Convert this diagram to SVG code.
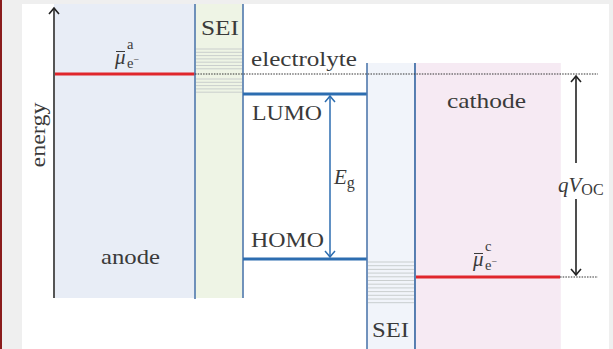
<svg xmlns="http://www.w3.org/2000/svg" width="613" height="349" viewBox="0 0 613 349">
<defs>
<style>
.t{font-family:"Liberation Serif","DejaVu Serif",serif;font-size:21px;fill:#3a3a3a}
.ti{font-family:"Liberation Serif","DejaVu Serif",serif;font-style:italic;font-size:21px;fill:#3a3a3a}
.s{font-family:"Liberation Serif","DejaVu Serif",serif;font-size:14.5px;fill:#3a3a3a}
.sub{font-family:"Liberation Serif","DejaVu Serif",serif;font-style:normal;font-size:16px}
.bd{stroke:#4f78ad;stroke-width:1.6;fill:none}
.lvl{stroke:#2c6db0;stroke-width:3.2;fill:none}
.red{stroke:#e0262c;stroke-width:3.2;fill:none}
.dot{stroke:#333;stroke-width:1.2;stroke-dasharray:1.5 1.2;fill:none}
.hatch{stroke:#c5c9c9;stroke-width:0.9}
</style>
<marker id="ab" viewBox="-8 -6 10 12" markerWidth="10" markerHeight="12" refX="0" refY="0" orient="auto-start-reverse" markerUnits="userSpaceOnUse">
<path d="M-6,-5 Q-2,-1.5 0,0 Q-2,1.5 -6,5" fill="none" stroke="#2c6db0" stroke-width="1.5"/>
</marker>
<marker id="ak" viewBox="-8 -6 10 12" markerWidth="10" markerHeight="12" refX="0" refY="0" orient="auto-start-reverse" markerUnits="userSpaceOnUse">
<path d="M-6,-5 Q-2,-1.5 0,0 Q-2,1.5 -6,5" fill="none" stroke="#222" stroke-width="1.6"/>
</marker>
</defs>
<rect x="0" y="0" width="613" height="349" fill="#ffffff"/>
<rect x="0" y="0" width="613" height="4" fill="#efefef"/>
<rect x="0" y="0" width="22" height="349" fill="#efefef"/>
<rect x="609" y="0" width="4" height="349" fill="#efefef"/>
<rect x="0" y="0" width="2" height="349" fill="#8b1c1c"/>

<g id="anode">
<rect x="54" y="4" width="141" height="294" fill="#e8edf6"/>
<text class="t" x="101" y="264" textLength="59" lengthAdjust="spacingAndGlyphs">anode</text>
<line class="red" x1="54" y1="74" x2="195" y2="74"/>
<line x1="116" y1="51.5" x2="125" y2="51.5" stroke="#3a3a3a" stroke-width="1"/>
<text class="ti" x="115" y="64">μ</text>
<text class="s" x="127" y="49">a</text>
<text class="s" x="127" y="68">e<tspan style="font-size:10px" dy="-5">−</tspan></text>
</g>

<g id="sei-anode">
<rect x="195" y="4" width="48" height="294" fill="#eef4e5"/>
<g class="hatch">
<line x1="196" y1="49" x2="242" y2="49"/>
<line x1="196" y1="52.3" x2="242" y2="52.3"/>
<line x1="196" y1="55.6" x2="242" y2="55.6"/>
<line x1="196" y1="58.9" x2="242" y2="58.9"/>
<line x1="196" y1="62.2" x2="242" y2="62.2"/>
<line x1="196" y1="65.5" x2="242" y2="65.5"/>
<line x1="196" y1="68.8" x2="242" y2="68.8"/>
<line x1="196" y1="79" x2="242" y2="79"/>
<line x1="196" y1="82.3" x2="242" y2="82.3"/>
<line x1="196" y1="85.6" x2="242" y2="85.6"/>
<line x1="196" y1="88.9" x2="242" y2="88.9"/>
<line x1="196" y1="92.2" x2="242" y2="92.2"/>
</g>
<line class="bd" x1="195" y1="4" x2="195" y2="299"/>
<line class="bd" x1="243" y1="4" x2="243" y2="298"/>
<text class="t" x="201" y="35" textLength="38" lengthAdjust="spacingAndGlyphs">SEI</text>
</g>

<g id="electrolyte">
<text class="t" x="251" y="66" textLength="106" lengthAdjust="spacingAndGlyphs">electrolyte</text>
<line class="lvl" x1="243" y1="94" x2="367" y2="94"/>
<line class="lvl" x1="243" y1="259" x2="367" y2="259"/>
<text class="t" x="252" y="120" textLength="70" lengthAdjust="spacingAndGlyphs">LUMO</text>
<text class="t" x="251" y="247" textLength="73" lengthAdjust="spacingAndGlyphs">HOMO</text>
<text class="ti" x="334" y="184">E<tspan class="sub" dy="4">g</tspan></text>
</g>

<g id="sei-cathode">
<rect x="367" y="63" width="48" height="286" fill="#f1f4fa"/>
<g class="hatch">
<line x1="368" y1="262" x2="414" y2="262"/>
<line x1="368" y1="265.7" x2="414" y2="265.7"/>
<line x1="368" y1="269.4" x2="414" y2="269.4"/>
<line x1="368" y1="273.1" x2="414" y2="273.1"/>
<line x1="368" y1="276.8" x2="414" y2="276.8"/>
<line x1="368" y1="280.5" x2="414" y2="280.5"/>
<line x1="368" y1="284.2" x2="414" y2="284.2"/>
<line x1="368" y1="287.9" x2="414" y2="287.9"/>
<line x1="368" y1="291.6" x2="414" y2="291.6"/>
<line x1="368" y1="295.3" x2="414" y2="295.3"/>
<line x1="368" y1="299" x2="414" y2="299"/>
<line x1="368" y1="302.7" x2="414" y2="302.7"/>
</g>
<line class="bd" x1="367" y1="63" x2="367" y2="349"/>
<line class="bd" x1="415" y1="63" x2="415" y2="349"/>
<text class="t" x="372" y="337" textLength="37" lengthAdjust="spacingAndGlyphs">SEI</text>
</g>

<g id="cathode">
<rect x="415.8" y="63" width="145" height="286" fill="#f6eaf3"/>
<line class="bd" x1="415" y1="63" x2="415" y2="349"/>
<text class="t" x="447" y="108" textLength="79" lengthAdjust="spacingAndGlyphs">cathode</text>
<line class="red" x1="416" y1="277" x2="560" y2="277"/>
<line x1="474" y1="253.5" x2="483" y2="253.5" stroke="#3a3a3a" stroke-width="1"/>
<text class="ti" x="473" y="266">μ</text>
<text class="s" x="485" y="251">c</text>
<text class="s" x="485" y="270">e<tspan style="font-size:10px" dy="-5">−</tspan></text>
</g>

<g id="reference-lines">
<line class="dot" x1="195" y1="74" x2="598" y2="74"/>
<line class="dot" x1="560" y1="277" x2="598" y2="277"/>
</g>

<g id="energy-axis">
<line x1="54" y1="298" x2="54" y2="8" stroke="#555" stroke-width="2" marker-end="url(#ak)"/>
<text class="t" transform="translate(45,135) rotate(-90)" text-anchor="middle" textLength="65" lengthAdjust="spacingAndGlyphs">energy</text>
</g>

<g id="connectors">
<line x1="330" y1="96" x2="330" y2="257" stroke="#2c6db0" stroke-width="1.5" marker-start="url(#ab)" marker-end="url(#ab)"/>
<line x1="576" y1="76" x2="576" y2="163" stroke="#222" stroke-width="1.6" marker-start="url(#ak)"/>
<line x1="576" y1="199" x2="576" y2="275" stroke="#222" stroke-width="1.6" marker-end="url(#ak)"/>
</g>
<g id="qvoc-label">
<text class="ti" x="558" y="192">qV<tspan class="sub" dy="3">OC</tspan></text>
</g>
</svg>
